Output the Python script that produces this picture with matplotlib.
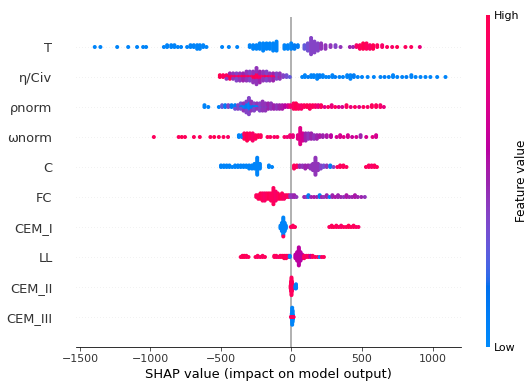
import numpy as np
import matplotlib
matplotlib.use("Agg")
import matplotlib.pyplot as plt
from matplotlib.colors import LinearSegmentedColormap
import matplotlib.cm as cm

## Feature names, top row first
features = ['T', 'η/Civ', 'ρnorm', 'ωnorm', 'C', 'FC', 'CEM_I', 'LL', 'CEM_II', 'CEM_III']

## Per feature: SHAP value, feature value (0 = low, 1 = high), number of points there
T_shap = [-1395, -1355, -1236, -1158, -1095, -1052, -1031,
          -905, -882, -853, -830, -806, -783,
          -740, -716, -693, -669, -650, -626, -603,
          -492, -444, -385,
          -296, -272, -248, -225, -201, -177, -154, -130, -106,
          -50, -26, -2, 21, 45,
          92, 116, 139, 163, 187, 210, 241, 277, 312, 348,
          414, 437,
          461, 485, 508, 532, 556, 579, 608, 643, 678, 714, 749,
          808, 849, 910]
T_feat = [0.05, 0.05, 0.05, 0.05, 0.05, 0.05, 0.05,
          0.05, 0.05, 0.05, 0.05, 0.05, 0.05,
          0.05, 0.05, 0.05, 0.05, 0.05, 0.05, 0.05,
          0.05, 0.05, 0.05,
          0.05, 0.05, 0.05, 0.05, 0.05, 0.05, 0.05, 0.05, 0.05,
          0.05, 0.05, 0.05, 0.1, 0.1,
          0.3, 0.35, 0.4, 0.4, 0.4, 0.45, 0.45, 0.45, 0.4, 0.45,
          0.5, 0.5,
          0.9, 0.95, 1.0, 0.95, 0.9, 1.0, 0.95, 0.9, 0.95, 0.9, 1.0,
          0.95, 0.95, 0.8]
T_n = [1, 1, 1, 1, 1, 1, 1,
       1, 2, 2, 2, 1, 1,
       1, 2, 2, 3, 3, 2, 1,
       1, 1, 1,
       2, 3, 3, 4, 5, 4, 4, 5, 6,
       3, 3, 4, 3, 2,
       3, 5, 10, 7, 5, 4, 3, 2, 2, 1,
       1, 1,
       2, 3, 4, 4, 3, 3, 2, 2, 1, 1, 1,
       1, 1, 1]

eta_shap = [-508, -485, -461, -437, -414, -390, -366, -343, -319, -296, -272, -248, -225, -201, -177, -154, -130, -106, -83,
            -461, -437, -414, -390, -366, -343, -319, -296, -272, -248, -225, -201, -177, -154, -130, -106, -83, -59, -35, -12,
            76, 95, 118, 140, 158, 182, 200, 222, 245, 265, 290, 310, 340, 365, 395, 418, 442, 470, 500, 540,
            584, 631, 660, 690, 720, 750, 785, 815, 850, 880, 915, 950, 985, 1033, 1092]
eta_feat = [1.0, 0.95, 0.95, 1.0, 0.95, 0.9, 0.95, 1.0, 0.9, 0.95, 1.0, 0.95, 0.9, 0.95, 1.0, 0.9, 0.95, 0.9, 0.95,
            0.45, 0.5, 0.45, 0.4, 0.45, 0.5, 0.45, 0.4, 0.45, 0.45, 0.5, 0.45, 0.4, 0.45, 0.5, 0.4, 0.45, 0.4, 0.35, 0.3,
            0.05, 0.05, 0.1, 0.05, 0.05, 0.05, 0.1, 0.05, 0.05, 0.05, 0.05, 0.1, 0.05, 0.05, 0.05, 0.05, 0.1, 0.05, 0.05, 0.05,
            0.05, 0.05, 0.1, 0.05, 0.05, 0.05, 0.05, 0.1, 0.05, 0.05, 0.05, 0.05, 0.05, 0.05, 0.05]
eta_n = [2, 2, 2, 3, 2, 2, 2, 2, 2, 2, 3, 4, 3, 2, 2, 2, 2, 1, 1,
         1, 1, 2, 3, 3, 3, 4, 4, 4, 6, 4, 4, 4, 3, 3, 3, 3, 2, 2, 1,
         1, 2, 1, 2, 2, 3, 2, 2, 1, 1, 2, 1, 1, 1, 2, 3, 2, 1, 1, 1,
         1, 1, 1, 1, 2, 1, 1, 1, 2, 1, 1, 1, 1, 1, 1]

rho_shap = [-617, -590, -515, -492, -470, -448, -425,
            -400, -380, -360, -340, -320, -302, -285, -265, -245, -225, -205, -185, -165, -105,
            -400, -380, -360, -340, -320, -302, -285, -265, -245, -225, -205, -185, -165, -145, -125, -105, -85, -65, -45, -25, -8,
            15, 32, 50, 70, 90, 110, 130, 150, 170, 190, 210, 235, 260, 285, 310, 335, 360, 390, 420, 450, 480, 510, 540,
            570, 600, 630, 655]
rho_feat = [0.05, 0.05, 0.05, 0.3, 0.1, 0.4, 0.1,
            0.1, 0.05, 0.1, 0.05, 0.1, 0.05, 0.1, 0.1, 0.05, 0.1, 0.1, 0.05, 0.1, 0.1,
            0.35, 0.4, 0.35, 0.45, 0.4, 0.4, 0.45, 0.4, 0.45, 0.4, 0.45, 0.45, 0.5, 0.45, 0.5, 0.45, 0.5, 0.55, 0.6, 0.7, 0.85,
            0.95, 1.0, 0.95, 0.9, 0.95, 1.0, 0.95, 0.95, 0.9, 0.8, 0.95, 0.75, 0.95, 0.8, 0.95, 0.75, 0.7, 0.95, 0.8, 0.95, 0.75, 0.95, 0.9,
            0.95, 0.95, 0.9, 0.8]
rho_n = [2, 1, 1, 2, 2, 2, 2,
         2, 1, 2, 3, 4, 6, 3, 2, 2, 1, 1, 1, 1, 1,
         1, 2, 2, 2, 3, 4, 3, 3, 2, 4, 5, 4, 3, 4, 3, 2, 3, 3, 2, 2, 2,
         4, 4, 3, 3, 2, 2, 3, 2, 2, 2, 2, 1, 1, 2, 1, 1, 1, 2, 1, 1, 1, 1, 1,
         2, 2, 2, 1]

omega_shap = [-976, -800, -778, -755, -692, -650, -575, -548, -515, -482, -450,
              -373, -352, -335,
              -335, -315, -295, -275, -255, -235, -218,
              -170, -150, -122, -100, -50, -30, -10, 10,
              45, 62, 80,
              100, 120, 140, 160, 180, 200, 222, 250, 280,
              320, 345, 370, 400, 430, 460, 490, 530, 575, 600]
omega_feat = [0.95, 0.95, 1.0, 0.95, 0.95, 0.95, 0.95, 1.0, 0.95, 0.95, 0.9,
              0.05, 0.05, 0.05,
              0.95, 1.0, 0.95, 0.9, 0.95, 1.0, 0.95,
              0.95, 0.95, 0.9, 0.95, 0.9, 0.85, 0.85, 0.8,
              0.75, 0.75, 0.7,
              0.5, 0.45, 0.5, 0.45, 0.5, 0.55, 0.5, 0.55, 0.6,
              0.7, 0.7, 0.75, 0.7, 0.65, 0.7, 0.5, 0.7, 0.75, 0.7]
omega_n = [1, 1, 1, 1, 1, 1, 1, 1, 1, 1, 1,
           2, 2, 1,
           3, 5, 4, 5, 3, 2, 2,
           1, 1, 1, 1, 1, 1, 2, 2,
           3, 10, 5,
           5, 4, 4, 3, 3, 2, 2, 2, 2,
           1, 2, 1, 2, 1, 1, 2, 1, 1, 2]

C_shap = [-500, -480, -460, -440, -420, -400, -380, -360, -340, -320, -300, -280, -262, -243, -224, -160, -138,
          18, 38, 58, 78, 98, 118, 135, 152, 170, 188, 208, 228, 250, 275, 298,
          325, 345, 368, 390, 528, 548, 568, 588, 606]
C_feat = [0.05, 0.05, 0.05, 0.05, 0.05, 0.05, 0.05, 0.05, 0.05, 0.05, 0.05, 0.05, 0.05, 0.05, 0.05, 0.05, 0.05,
          0.95, 0.95, 0.5, 0.45, 0.5, 0.5, 0.45, 0.45, 0.45, 0.45, 0.4, 0.35, 0.45, 0.1, 0.4,
          0.95, 0.95, 0.95, 0.95, 0.95, 0.95, 0.9, 0.95, 0.95]
C_n = [2, 2, 2, 2, 1, 2, 2, 2, 2, 2, 3, 3, 4, 12, 4, 2, 1,
       3, 2, 2, 2, 3, 2, 3, 5, 12, 5, 3, 2, 2, 2, 1,
       1, 2, 2, 1, 1, 2, 2, 2, 1]

FC_shap = [-250, -235, -220, -205, -190, -175, -160, -145, -128, -112, -97, -82, -67, -52, -37, -22,
           -8, 6, 20, 35,
           90, 105, 120, 140, 160, 180, 200, 215, 230, 250, 270, 290, 310, 330, 350, 370, 390, 410, 430, 450, 470, 495, 520]
FC_feat = [0.95, 0.95, 1.0, 0.95, 0.9, 0.95, 1.0, 0.95, 0.95, 0.9, 0.95, 1.0, 0.95, 0.9, 0.95, 0.95,
           0.45, 0.45, 0.5, 0.45,
           0.5, 0.45, 0.1, 0.5, 0.55, 0.5, 0.1, 0.5, 0.45, 0.5, 0.1, 0.5, 0.55, 0.5, 0.5, 0.45, 0.55, 0.5, 0.5, 0.55, 0.5, 0.5, 0.45]
FC_n = [2, 3, 4, 5, 5, 4, 4, 5, 10, 6, 4, 3, 4, 3, 2, 2,
        2, 2, 2, 1,
        1, 1, 2, 1, 1, 1, 2, 1, 1, 2, 1, 2, 1, 2, 1, 1, 2, 1, 1, 2, 1, 1, 1]

CEMI_shap = [-78, -68, -58, -48, -40, -58,
             -5, 10, 25,
             268, 285, 300, 318, 335, 352, 370, 388, 405, 422, 440, 458, 475]
CEMI_feat = [0.05, 0.05, 0.05, 0.05, 0.05, 0.95,
             0.95, 0.95, 0.95,
             0.95, 0.95, 1.0, 0.95, 0.95, 0.9, 0.95, 0.95, 1.0, 0.95, 0.95, 0.95, 0.9]
CEMI_n = [3, 7, 14, 7, 3, 1,
          1, 2, 1,
          1, 2, 1, 2, 1, 2, 1, 1, 2, 1, 2, 1, 1]

LL_shap = [-360, -348, -335, -320, -305, -255, -240, -222, -205, -188,
           -122, -108, -94, -80, -66, -52, -38, -24, -12,
           28, 40, 52, 64, 76,
           90, 105, 120, 135, 150, 168, 185, 200, 215, 230]
LL_feat = [0.95, 0.95, 1.0, 0.95, 0.95, 0.95, 0.95, 0.9, 0.95, 0.95,
           0.95, 0.95, 0.9, 0.95, 0.95, 1.0, 0.95, 0.95, 0.05,
           0.6, 0.6, 0.6, 0.6, 0.6,
           0.95, 0.9, 0.95, 0.6, 0.95, 0.95, 0.95, 0.05, 0.95, 0.95]
LL_n = [1, 2, 2, 2, 1, 1, 2, 1, 2, 1,
        2, 2, 1, 2, 2, 3, 3, 2, 2,
        4, 8, 16, 8, 4,
        3, 2, 2, 2, 2, 1, 1, 1, 1, 1]

CEMII_shap = [-6, -3, 0, 3, 6, 28, 32]
CEMII_feat = [0.95, 0.95, 0.95, 0.95, 0.95, 0.05, 0.05]
CEMII_n = [3, 8, 14, 8, 3, 3, 4]

CEMIII_shap = [2, 5, 8, 11, -4, -1, 12, 15]
CEMIII_feat = [0.05, 0.05, 0.05, 0.05, 0.95, 0.95, 0.95, 0.95]
CEMIII_n = [4, 12, 8, 3, 1, 1, 1, 1]

rows = [(T_shap, T_feat, T_n), (eta_shap, eta_feat, eta_n), (rho_shap, rho_feat, rho_n),
        (omega_shap, omega_feat, omega_n), (C_shap, C_feat, C_n), (FC_shap, FC_feat, FC_n),
        (CEMI_shap, CEMI_feat, CEMI_n), (LL_shap, LL_feat, LL_n),
        (CEMII_shap, CEMII_feat, CEMII_n), (CEMIII_shap, CEMIII_feat, CEMIII_n)]


## red-blue colour scale built in Lch space
def lch2rgb(l, c, h):
    a = c * np.cos(h)
    b = c * np.sin(h)
    y = (l + 16.) / 116.
    x = a / 500. + y
    z = max(y - b / 200., 0)
    xyz = np.array([x, y, z])
    xyz = np.where(xyz > 0.2068966, xyz ** 3, (xyz - 16. / 116.) / 7.787)
    xyz = xyz * np.array([0.95047, 1.0, 1.08883])
    m = np.array([[3.24048134, -1.53715152, -0.49853633],
                  [-0.96925495, 1.87599, 0.04155593],
                  [0.05564664, -0.20404134, 1.05731107]])
    rgb = m @ xyz
    rgb = np.where(rgb > 0.0031308, 1.055 * np.abs(rgb) ** (1 / 2.4) - 0.055, 12.92 * rgb)
    return np.clip(rgb, 0, 1)

blue_lch = [54., 70., 4.6588]
red_lch = [54., 90., 0.35470565 + 2 * np.pi]
nsteps = 100
l_vals = list(np.linspace(blue_lch[0], 40., nsteps // 2)) + list(np.linspace(40., red_lch[0], nsteps // 2))
c_vals = np.linspace(blue_lch[1], red_lch[1], nsteps)
h_vals = np.linspace(blue_lch[2], red_lch[2], nsteps)
cmap = LinearSegmentedColormap.from_list(
    'red_blue', [lch2rgb(l, c, h) for l, c, h in zip(l_vals, c_vals, h_vals)])


def swarm(shap, n):
    x = np.repeat(np.array(shap, dtype=float), n)
    quant = np.round(100 * (x - x.min()) / (x.max() - x.min() + 1e-8))
    order = np.argsort(quant, kind='stable')
    ys = np.zeros(len(x))
    layer = 0
    last = -1
    for i in order:
        if quant[i] != last:
            layer = 0
        ys[i] = np.ceil(layer / 2) * ((layer % 2) * 2 - 1)
        layer += 1
        last = quant[i]
    ys *= 0.9 * (0.4 / np.max(ys + 1))
    return x, ys


fig = plt.figure(figsize=(529 / 72, 381 / 72), dpi=72)
ax = fig.add_axes([76 / 529, 34 / 381, 385 / 529, 330 / 381])

ax.axvline(x=0, color='#999999', zorder=-1)
npos = len(features)
for k, (s, f, n) in enumerate(rows):
    pos = npos - 1 - k
    ax.axhline(y=pos, color='#cccccc', lw=0.5, dashes=(1, 5), zorder=-1)
    x, ys = swarm(s, n)
    cv = np.repeat(np.array(f, dtype=float), n)
    ax.scatter(x, pos + ys, c=cv, cmap=cmap, vmin=0, vmax=1, s=16, linewidth=0, zorder=3)

axis_color = '#333333'
ax.xaxis.set_ticks_position('bottom')
ax.yaxis.set_ticks_position('none')
for sp in ['right', 'top', 'left']:
    ax.spines[sp].set_visible(False)
ax.tick_params(color=axis_color, labelcolor=axis_color)
ax.set_yticks(range(npos))
ax.set_yticklabels(features[::-1], fontsize=13)
ax.tick_params('y', length=20, width=0.5, which='major')
ax.tick_params('x', labelsize=11)
ax.set_xticks([-1500, -1000, -500, 0, 500, 1000])
ax.set_xlim(-1528, 1202)
ax.set_ylim(-1, npos)
ax.set_xlabel('SHAP value (impact on model output)', fontsize=13)

cax = fig.add_axes([486 / 529, 34 / 381, 4 / 529, 332 / 381])
m = cm.ScalarMappable(cmap=cmap)
m.set_array([0, 1])
cb = fig.colorbar(m, cax=cax, ticks=[0, 1])
cb.set_ticklabels(['Low', 'High'])
cb.set_label('Feature value', size=12, labelpad=-4)
cb.ax.tick_params(labelsize=11, length=0)
cb.outline.set_visible(False)

fig.savefig('out.png', dpi=72)
